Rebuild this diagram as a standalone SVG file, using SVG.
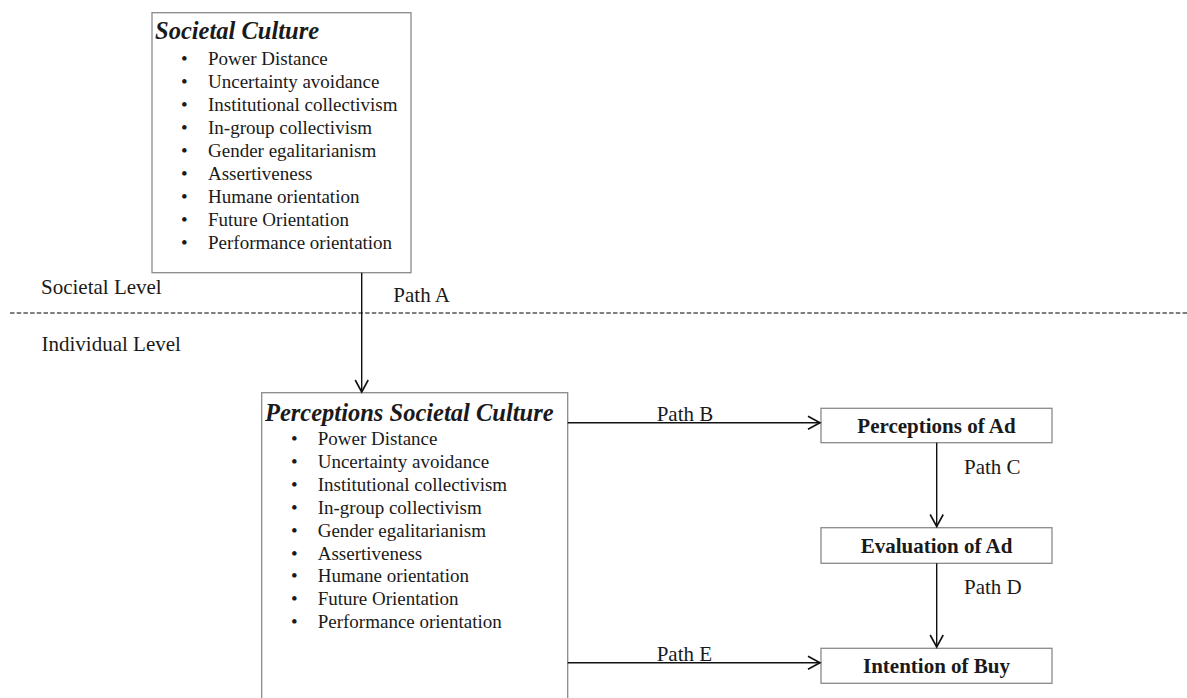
<svg xmlns="http://www.w3.org/2000/svg" width="1187" height="698" viewBox="0 0 1187 698">
<defs>
<style>
text{font-family:"Liberation Serif","Times New Roman",serif;fill:#1a1a1a}
.title{font-size:24.5px;font-weight:bold;font-style:italic}
.li{font-size:19px}
.lbl{font-size:21px}
.bx{font-size:21px;font-weight:bold}
.box{fill:#fff;stroke:#8a8a8a;stroke-width:1.3}
.conn{stroke:#111;stroke-width:1.4;fill:none}
</style>
<marker id="arr" markerUnits="userSpaceOnUse" markerWidth="16" markerHeight="16" viewBox="-14 -8 16 16" refX="0" refY="0" orient="auto">
<path d="M-12,-6.5 L0,0 L-12,6.5" fill="none" stroke="#111" stroke-width="1.6"/>
</marker>
</defs>
<rect width="1187" height="698" fill="#fff"/>

<g id="levels">
<line x1="10" y1="313" x2="1187" y2="313" stroke="#555" stroke-width="1.5" stroke-dasharray="4.5,2.2"/>
<text class="lbl" x="41" y="294">Societal Level</text>
<text class="lbl" x="41.5" y="351">Individual Level</text>
</g>

<g id="societal-culture">
<rect class="box" x="152" y="12.7" width="259" height="260"/>
<text class="title" x="155" y="39.3">Societal Culture</text>
<g class="li">
<text x="181" y="65.3">•</text><text x="208" y="65.3">Power Distance</text>
<text x="181" y="88.3">•</text><text x="208" y="88.3">Uncertainty avoidance</text>
<text x="181" y="111.3">•</text><text x="208" y="111.3">Institutional collectivism</text>
<text x="181" y="134.3">•</text><text x="208" y="134.3">In-group collectivism</text>
<text x="181" y="157.3">•</text><text x="208" y="157.3">Gender egalitarianism</text>
<text x="181" y="180.3">•</text><text x="208" y="180.3">Assertiveness</text>
<text x="181" y="203.3">•</text><text x="208" y="203.3">Humane orientation</text>
<text x="181" y="226.3">•</text><text x="208" y="226.3">Future Orientation</text>
<text x="181" y="249.3">•</text><text x="208" y="249.3">Performance orientation</text>
</g>
</g>

<g id="perceptions-societal-culture">
<rect class="box" x="261.7" y="392.7" width="306" height="320"/>
<text class="title" x="265" y="420.7">Perceptions Societal Culture</text>
<g class="li">
<text x="291" y="445">•</text><text x="317.7" y="445">Power Distance</text>
<text x="291" y="467.9">•</text><text x="317.7" y="467.9">Uncertainty avoidance</text>
<text x="291" y="490.8">•</text><text x="317.7" y="490.8">Institutional collectivism</text>
<text x="291" y="513.7">•</text><text x="317.7" y="513.7">In-group collectivism</text>
<text x="291" y="536.6">•</text><text x="317.7" y="536.6">Gender egalitarianism</text>
<text x="291" y="559.5">•</text><text x="317.7" y="559.5">Assertiveness</text>
<text x="291" y="582.4">•</text><text x="317.7" y="582.4">Humane orientation</text>
<text x="291" y="605.3">•</text><text x="317.7" y="605.3">Future Orientation</text>
<text x="291" y="628.2">•</text><text x="317.7" y="628.2">Performance orientation</text>
</g>
</g>

<g id="perceptions-of-ad">
<rect class="box" x="821" y="408.3" width="231" height="34.4"/>
<text class="bx" x="936.5" y="432.7" text-anchor="middle">Perceptions of Ad</text>
</g>
<g id="evaluation-of-ad">
<rect class="box" x="821" y="527.7" width="231" height="35.6"/>
<text class="bx" x="936.5" y="552.7" text-anchor="middle">Evaluation of Ad</text>
</g>
<g id="intention-of-buy">
<rect class="box" x="821" y="648.3" width="231" height="35"/>
<text class="bx" x="936.5" y="672.7" text-anchor="middle">Intention of Buy</text>
</g>

<g id="connectors">
<line class="conn" x1="361.7" y1="272.7" x2="361.7" y2="392" marker-end="url(#arr)"/>
<line class="conn" x1="567.7" y1="422.7" x2="820" y2="422.7" marker-end="url(#arr)"/>
<line class="conn" x1="936.7" y1="442.7" x2="936.7" y2="526.5" marker-end="url(#arr)"/>
<line class="conn" x1="936.7" y1="563.3" x2="936.7" y2="647" marker-end="url(#arr)"/>
<line class="conn" x1="567.7" y1="662.7" x2="820" y2="662.7" marker-end="url(#arr)"/>
<text class="lbl" x="393.3" y="302.3">Path A</text>
<text class="lbl" x="656.7" y="421">Path B</text>
<text class="lbl" x="964" y="474">Path C</text>
<text class="lbl" x="964" y="594">Path D</text>
<text class="lbl" x="656.7" y="660.7">Path E</text>
</g>
</svg>
